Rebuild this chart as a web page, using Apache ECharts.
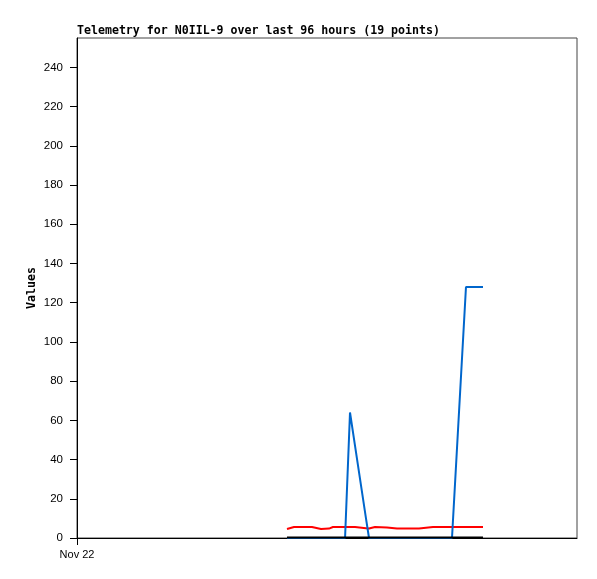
<!DOCTYPE html>
<html>
<head>
<meta charset="utf-8">
<script src="https://cdn.jsdelivr.net/npm/echarts@6/dist/echarts.min.js"></script>
<style>
  html, body { margin: 0; padding: 0; background: #fff; }
  #main { width: 597px; height: 579px; }
</style>
</head>
<body>
<div id="main"></div>
<script>
  // packet times (local), 19 points
  var times = [
    '2023-11-23T16:19', '2023-11-23T17:40', '2023-11-23T21:07', '2023-11-23T22:51',
    '2023-11-24T00:23', '2023-11-24T01:09', '2023-11-24T03:28', '2023-11-24T04:25',
    '2023-11-24T05:23', '2023-11-24T07:29', '2023-11-24T08:04', '2023-11-24T09:13',
    '2023-11-24T11:31', '2023-11-24T13:26', '2023-11-24T17:40', '2023-11-24T20:21',
    '2023-11-25T00:00', '2023-11-25T02:41', '2023-11-25T05:57'
  ];
  var redValues   = [4.6, 5.6, 5.6, 4.6, 4.8, 5.6, 5.6, 5.6, 5.6, 5.0, 4.8, 5.6, 5.4, 4.8, 4.8, 5.6, 5.6, 5.6, 5.6];
  var blueValues  = [0, 0, 0, 0, 0, 0, 0, 64, 47, 10, 0, 0, 0, 0, 0, 0, 0, 128, 128];
  var blackValues = [0.3, 0.3, 0.3, 0.3, 0.3, 0.3, 0.3, 0.3, 0.3, 0.3, 0.3, 0.3, 0.3, 0.3, 0.3, 0.3, 0.3, 0.3, 0.3];
  var yTicks = [0, 20, 40, 60, 80, 100, 120, 140, 160, 180, 200, 220, 240];
  var xStart = '2023-11-22T00:00';
  var xEnd = '2023-11-26T00:00';
  var xLabel = 'Nov 22';

  function ms(s) { return new Date(s).getTime(); }
  function pairs(vals) {
    return times.map(function (t, i) { return [ms(t), vals[i]]; });
  }

  var myChart = echarts.init(document.getElementById('main'));
  var option = {
    animation: false,
    title: {
      text: 'Telemetry for N0IIL-9 over last 96 hours (19 points)',
      left: 72,
      top: 20,
      textStyle: { fontFamily: 'DejaVu Sans Mono', fontSize: 11.6, fontWeight: 'bold', color: '#000' }
    },
    grid: {
      left: 77, right: 20, top: 38, bottom: 41,
      show: true, borderColor: '#444', borderWidth: 1
    },
    xAxis: {
      type: 'value',
      min: ms(xStart),
      max: ms(xEnd),
      axisLine: { lineStyle: { color: '#000' } },
      axisTick: { customValues: [ms(xStart)], length: 7, lineStyle: { color: '#000' } },
      axisLabel: {
        customValues: [ms(xStart)],
        formatter: function () { return xLabel; },
        margin: 11,
        fontFamily: 'Liberation Sans', fontSize: 11, color: '#000'
      },
      splitLine: { show: false }
    },
    yAxis: {
      type: 'value',
      min: 0,
      max: 255,
      name: 'Values',
      nameLocation: 'middle',
      nameGap: 39,
      nameMoveOverlap: false,
      nameTextStyle: { fontFamily: 'DejaVu Sans Mono', fontSize: 11.6, fontWeight: 'bold', color: '#000' },
      axisLine: { show: true, lineStyle: { color: '#000' } },
      axisTick: { show: true, customValues: yTicks, length: 7, lineStyle: { color: '#000' } },
      axisLabel: {
        customValues: yTicks,
        margin: 14,
        fontFamily: 'Liberation Sans', fontSize: 11.5, color: '#000'
      },
      splitLine: { show: false }
    },
    series: [
      {
        type: 'line', data: pairs(redValues), showSymbol: false,
        lineStyle: { color: '#ff0000', width: 2 }, z: 2
      },
      {
        type: 'line', data: pairs(blueValues), showSymbol: false,
        lineStyle: { color: '#0066cc', width: 2 }, z: 3
      },
      {
        type: 'line', data: pairs(blackValues), showSymbol: false,
        lineStyle: { color: '#000', width: 2 }, z: 4
      }
    ]
  };
  myChart.setOption(option);
</script>
</body>
</html>
